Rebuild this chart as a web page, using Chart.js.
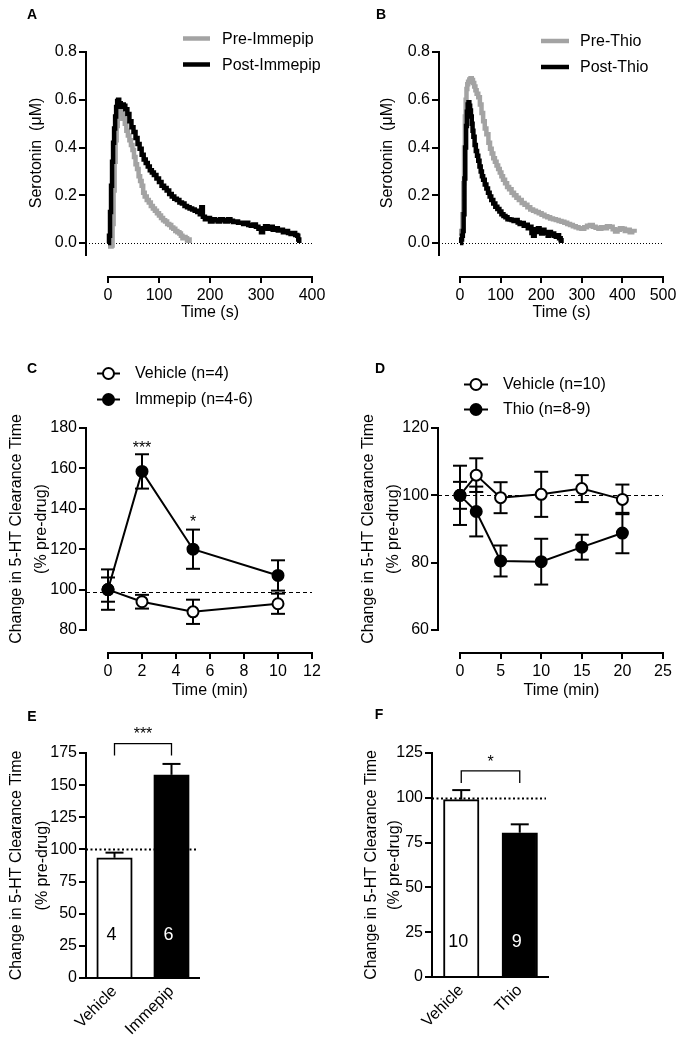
<!DOCTYPE html>
<html><head><meta charset="utf-8">
<script src="https://cdn.jsdelivr.net/npm/chart.js@4.4.0/dist/chart.umd.min.js"></script>
<style>
html,body{margin:0;padding:0;background:#fff;}
#wrap{position:relative;width:682px;height:1040px;overflow:hidden;}
#wrap canvas{position:absolute;left:0;top:0;}
</style></head>
<body><div id="wrap">
<canvas id="cA" width="682" height="1040"></canvas>
<canvas id="cB" width="682" height="1040"></canvas>
<canvas id="cC" width="682" height="1040"></canvas>
<canvas id="cD" width="682" height="1040"></canvas>
<canvas id="cE" width="682" height="1040"></canvas>
<canvas id="cF" width="682" height="1040"></canvas>
</div>
<script>
// ---------------- DATA ----------------
// Panel A: serotonin traces (time s, concentration uM)
const preImmepipTime = [0,4,7,9,11,13,15,17,19,21, 24,27,30,33,36,39,42,45,48,51, 54,57,60,63,66,69,72,76,80,84, 88,92,96,100,104,108,112,116,120,124, 128,132,136,140,143,146,149,152,155,158, 160];
const preImmepipConc = [-0.015,-0.015,-0.01,0.08,0.22,0.34,0.43,0.49,0.52,0.54, 0.55,0.54,0.52,0.50,0.47,0.45,0.43,0.41,0.39,0.36, 0.33,0.31,0.28,0.26,0.24,0.21,0.195,0.18,0.17,0.155, 0.145,0.135,0.125,0.115,0.105,0.095,0.09,0.08,0.075,0.065, 0.06,0.05,0.045,0.04,0.03,0.02,0.025,0.02,0.01,0.015, 0.0];
const postImmepipTime = [0,2,4,6,8,10,12,14,16,18, 20,22,25,28,31,34,38,42,46,50, 54,58,62,66,70,74,78,82,86,90, 95,100,105,110,115,120,125,130,135,140, 145,150,155,160,165,170,175,180,183,186, 190,195,200,205,210,215,220,225,230,235, 240,245,250,255,260,265,270,275,280,285, 290,295,300,304,308,313,318,323,328,333, 338,343,348,353,358,363,367,371,373,375];
const postImmepipConc = [0.0,0.03,0.13,0.24,0.34,0.42,0.48,0.53,0.57,0.595, 0.60,0.585,0.57,0.58,0.575,0.56,0.54,0.51,0.485,0.465, 0.44,0.415,0.395,0.37,0.35,0.335,0.32,0.305,0.295,0.285, 0.27,0.255,0.24,0.23,0.22,0.205,0.195,0.185,0.18,0.17, 0.165,0.155,0.15,0.145,0.14,0.135,0.13,0.12,0.15,0.11, 0.10,0.105,0.09,0.10,0.095,0.09,0.10,0.095,0.09,0.10, 0.093,0.088,0.09,0.085,0.085,0.08,0.085,0.075,0.072,0.078, 0.068,0.06,0.045,0.062,0.07,0.06,0.068,0.056,0.062,0.052, 0.056,0.045,0.05,0.042,0.038,0.042,0.034,0.03,0.015,0.0];
// Panel B
const preThioTime = [0,3,6,8,10,12,14,16,18,20, 23,26,29,32,35,38,41,45,49,53, 57,61,65,70,74,78,82,86,90,94, 98,102,106,111,116,121,127,133,139,145, 152,159,166,173,180,187,194,201,208,215, 222,229,236,243,250,257,264,271,278,285, 292,299,306,313,320,327,334,341,348,355, 362,369,376,382,388,394,400,406,412,418, 424,430];
const preThioConc = [0.03,0.05,0.12,0.25,0.40,0.53,0.60,0.645,0.665,0.675, 0.685,0.69,0.683,0.67,0.655,0.64,0.625,0.61,0.58,0.545, 0.51,0.48,0.455,0.42,0.395,0.375,0.355,0.34,0.325,0.31, 0.295,0.28,0.265,0.25,0.235,0.225,0.21,0.2,0.19,0.18, 0.168,0.16,0.15,0.14,0.135,0.13,0.125,0.118,0.112,0.108, 0.103,0.1,0.096,0.092,0.089,0.085,0.08,0.075,0.07,0.066, 0.062,0.06,0.066,0.072,0.075,0.068,0.064,0.06,0.066,0.062, 0.07,0.068,0.058,0.048,0.055,0.062,0.06,0.05,0.055,0.045, 0.05,0.043];
const postThioTime = [0,3,5,7,9,11,13,15,17,19, 21,23,25,27,29,31,33,36,39,42, 45,48,51,54,57,61,65,69,73,77, 82,87,92,97,102,107,112,117,122,127, 132,137,142,147,152,157,162,167,172,176, 180,184,188,192,196,200,204,208,212,216, 220,224,228,232,236,240,244,248,250];
const postThioConc = [0.0,0.015,0.03,0.05,0.12,0.27,0.40,0.49,0.55,0.58, 0.59,0.575,0.555,0.53,0.5,0.47,0.445,0.41,0.385,0.365, 0.345,0.32,0.3,0.28,0.265,0.245,0.228,0.21,0.195,0.18, 0.165,0.152,0.142,0.132,0.12,0.113,0.108,0.1,0.098,0.096, 0.092,0.096,0.086,0.08,0.084,0.072,0.076,0.062,0.068,0.042, 0.03,0.058,0.046,0.062,0.05,0.04,0.056,0.042,0.046,0.03, 0.046,0.036,0.04,0.03,0.026,0.032,0.02,0.012,0.0];
const aTimeTicks = [0, 100, 200, 300, 400];
const bTimeTicks = [0, 100, 200, 300, 400, 500];
const concTicks = [0, 0.2, 0.4, 0.6, 0.8];
// Panel C
const cTime = [0, 2, 5, 10];
const cVehicleMean = [100, 94, 89, 93];
const cVehicleSem = [6, 3.4, 6, 5];
const cImmepipMean = [100, 158.5, 120, 107];
const cImmepipSem = [10, 8.5, 9.7, 7.5];
const cBaseline = 98.8;
const cStars = [{t: 2, v: 171.6, s: '***'}, {t: 5, v: 134.8, s: '*'}];
const cTimeTicks = [0, 2, 4, 6, 8, 10, 12];
const cPctTicks = [80, 100, 120, 140, 160, 180];
// Panel D
const dTime = [0, 2, 5, 10, 15, 20];
const dVehicleMean = [100, 106, 99.3, 100.3, 102, 98.8];
const dVehicleSem = [4, 5, 4.6, 6.7, 4, 4.4];
const dThioMean = [100, 95.2, 80.5, 80.3, 84.6, 88.8];
const dThioSem = [8.8, 7.4, 4.6, 6.8, 3.7, 6];
const dBaseline = 100;
const dTimeTicks = [0, 5, 10, 15, 20, 25];
const dPctTicks = [60, 80, 100, 120];
// Panel E
const eLabels = ['Vehicle', 'Immepip'];
const eMean = [93.5, 158];
const eSem = [4, 8.5];
const eN = ['4', '6'];
const ePctTicks = [0, 25, 50, 75, 100, 125, 150, 175];
// Panel F
const fLabels = ['Vehicle', 'Thio'];
const fMean = [99, 80.5];
const fSem = [5.3, 4.7];
const fN = ['10', '9'];
const fPctTicks = [0, 25, 50, 75, 100, 125];

// ---------------- STYLE / HELPERS ----------------
const FONT = '"Liberation Sans", Arial, Helvetica, sans-serif';
const GRAY = '#a3a3a3';
Chart.defaults.font.family = FONT;
Chart.defaults.font.size = 16;
Chart.defaults.color = '#000';
Chart.defaults.animation = false;
const W = 682, H = 1040, YW = 60, XH = 40;

function pts(xs, ys) { return xs.map((x, i) => ({x: x, y: ys[i]})); }

function T(ctx, s, x, y, o) {
  o = o || {};
  ctx.save();
  ctx.font = (o.bold ? 'bold ' : '') + (o.size || 16) + 'px ' + FONT;
  ctx.fillStyle = o.color || '#000';
  ctx.textAlign = o.align || 'center';
  ctx.textBaseline = 'middle';
  ctx.translate(x, y);
  if (o.rot) ctx.rotate(o.rot);
  ctx.fillText(s, 0, 0);
  ctx.restore();
}
function L(ctx, x1, y1, x2, y2, w, color, dash) {
  ctx.save();
  ctx.strokeStyle = color || '#000';
  ctx.lineWidth = w;
  ctx.lineCap = 'butt';
  if (dash) ctx.setLineDash(dash);
  ctx.beginPath(); ctx.moveTo(x1, y1); ctx.lineTo(x2, y2); ctx.stroke();
  ctx.restore();
}
function circle(ctx, cx, cy, r, fill) {
  ctx.save();
  ctx.beginPath(); ctx.arc(cx, cy, r, 0, Math.PI * 2);
  ctx.fillStyle = fill; ctx.fill();
  ctx.lineWidth = 2; ctx.strokeStyle = '#000'; ctx.stroke();
  ctx.restore();
}
function yTitle2(ctx, x1, x2, y) {
  T(ctx, 'Change in 5-HT Clearance Time', x1, y, {rot: -Math.PI / 2});
  T(ctx, '(% pre-drug)', x2, y, {rot: -Math.PI / 2});
}

function linScale(o) {
  const isX = o.axis === 'x';
  return {
    type: 'linear', min: o.min, max: o.max,
    afterBuildTicks: s => { s.ticks = o.ticks.map(v => ({value: v})); },
    afterFit: isX ? (s => { s.height = XH; }) : (s => { s.width = YW; }),
    ticks: {padding: isX ? 3 : 2, autoSkip: false, maxRotation: 0, minRotation: 0,
      color: '#000', font: {size: 16},
      callback: v => (o.dec != null ? Number(v).toFixed(o.dec) : String(Math.round(v)))},
    grid: {display: true, drawOnChartArea: false, drawTicks: true, tickLength: isX ? 6 : 7, color: '#000', lineWidth: 2},
    border: {display: false}
  };
}
function pad(g, xh) {
  return {left: g.left - YW, right: W - g.right, top: g.top, bottom: H - g.bottom - (xh || XH)};
}
function drawAxes(chart, g) {
  const {ctx, chartArea: a, scales: {x, y}} = chart;
  L(ctx, a.left, y.getPixelForValue(g.yTop) - 1, a.left, y.getPixelForValue(g.yEnd) + 1, 2);
  if (g.xFrom != null) {
    L(ctx, x.getPixelForValue(g.xFrom) - 1, a.bottom, x.getPixelForValue(g.xTo) + 1, a.bottom, 2);
  }
}
function errBars(chart, xs, means, sems) {
  const {ctx, scales: {x, y}} = chart;
  xs.forEach((t, i) => {
    const px = x.getPixelForValue(t);
    const top = y.getPixelForValue(means[i] + sems[i]);
    const bot = y.getPixelForValue(means[i] - sems[i]);
    L(ctx, px, top, px, bot, 2);
    L(ctx, px - 7, top, px + 7, top, 2);
    L(ctx, px - 7, bot, px + 7, bot, 2);
  });
}

// ---------------- PANEL A / B (traces) ----------------
function traceChart(id, g, series, deco) {
  return new Chart(document.getElementById(id), {
    type: 'line',
    data: {datasets: series.map(s => ({
      label: s.label, data: s.data, borderColor: s.color, borderWidth: 4.5,
      pointRadius: 0, stepped: true, fill: false, tension: 0
    }))},
    options: {
      responsive: false, maintainAspectRatio: false,
      layout: {padding: pad(g)},
      plugins: {legend: {display: false}, tooltip: {enabled: false}},
      scales: {
        x: linScale({axis: 'x', min: g.xMin, max: g.xMax, ticks: g.xTicks}),
        y: linScale({axis: 'y', min: g.yMin, max: g.yMax, ticks: concTicks, dec: 1})
      }
    },
    plugins: [{
      id: 'deco' + id,
      beforeDatasetsDraw(chart) {
        const {ctx, chartArea: a, scales: {y}} = chart;
        const y0 = Math.round(y.getPixelForValue(0)) + 0.5;
        L(ctx, a.left, y0, a.right, y0, 1, '#000', [1, 2]);
      },
      afterDraw(chart) { drawAxes(chart, g); deco(chart); }
    }]
  });
}

const geoA = {left: 86, right: 312, top: 52, bottom: 277, xMin: -43.1, xMax: 400, xTicks: aTimeTicks,
  yMin: -0.1424, yMax: 0.8, yTop: 0.8, yEnd: -0.05, xFrom: 0, xTo: 400};
traceChart('cA', geoA, [
  {label: 'Post-Immepip', data: pts(postImmepipTime, postImmepipConc), color: '#000'},
  {label: 'Pre-Immepip', data: pts(preImmepipTime, preImmepipConc), color: GRAY}
], chart => {
  const {ctx, scales: {x}} = chart;
  T(ctx, 'A', 32, 15, {bold: true, size: 14});
  L(ctx, 183, 38.5, 210, 38.5, 4.5, GRAY);
  T(ctx, 'Pre-Immepip', 222, 39.5, {align: 'left'});
  L(ctx, 183, 64.5, 210, 64.5, 4.5, '#000');
  T(ctx, 'Post-Immepip', 222, 65.5, {align: 'left'});
  T(ctx, 'Serotonin  (\u03bcM)', 36.5, 153, {rot: -Math.PI / 2});
  T(ctx, 'Time (s)', x.getPixelForValue(200), 313);
});

const geoB = {left: 439, right: 663, top: 52, bottom: 277, xMin: -51.7, xMax: 500, xTicks: bTimeTicks,
  yMin: -0.1424, yMax: 0.8, yTop: 0.8, yEnd: -0.05, xFrom: 0, xTo: 500};
traceChart('cB', geoB, [
  {label: 'Post-Thio', data: pts(postThioTime, postThioConc), color: '#000'},
  {label: 'Pre-Thio', data: pts(preThioTime, preThioConc), color: GRAY}
], chart => {
  const {ctx, scales: {x}} = chart;
  T(ctx, 'B', 381, 15, {bold: true, size: 14});
  L(ctx, 541, 41, 569, 41, 4.5, GRAY);
  T(ctx, 'Pre-Thio', 580, 41.5, {align: 'left'});
  L(ctx, 541, 67, 569, 67, 4.5, '#000');
  T(ctx, 'Post-Thio', 580, 67.5, {align: 'left'});
  T(ctx, 'Serotonin  (\u03bcM)', 387.5, 153, {rot: -Math.PI / 2});
  T(ctx, 'Time (s)', x.getPixelForValue(250), 313);
});

// ---------------- PANEL C / D (time course) ----------------
function courseChart(id, g, series, deco) {
  return new Chart(document.getElementById(id), {
    type: 'line',
    data: {datasets: series.map(s => ({
      label: s.label, data: pts(g.time, s.mean), borderColor: '#000', borderWidth: 2,
      pointRadius: 5.5, pointBorderWidth: 2, pointBorderColor: '#000',
      pointBackgroundColor: s.fill, fill: false, tension: 0
    }))},
    options: {
      responsive: false, maintainAspectRatio: false,
      layout: {padding: pad(g)},
      plugins: {legend: {display: false}, tooltip: {enabled: false}},
      scales: {
        x: linScale({axis: 'x', min: g.xMin, max: g.xMax, ticks: g.xTicks}),
        y: linScale({axis: 'y', min: g.yMin, max: g.yMax, ticks: g.yTicks})
      }
    },
    plugins: [{
      id: 'deco' + id,
      beforeDatasetsDraw(chart) {
        const {ctx, chartArea: a, scales: {y}} = chart;
        const yb = Math.round(y.getPixelForValue(g.baseline)) + 0.5;
        L(ctx, a.left, yb, a.right, yb, 1, '#000', [4, 3]);
        series.forEach(s => errBars(chart, g.time, s.mean, s.sem));
      },
      afterDraw(chart) { drawAxes(chart, g); deco(chart); }
    }]
  });
}

const geoC = {left: 86, right: 312, top: 428, bottom: 653, xMin: -1.294, xMax: 12, xTicks: cTimeTicks,
  yMin: 68.61, yMax: 180, yTicks: cPctTicks, yTop: 180, yEnd: 80, xFrom: 0, xTo: 12, time: cTime, baseline: cBaseline};
courseChart('cC', geoC, [
  {label: 'Immepip (n=4-6)', mean: cImmepipMean, sem: cImmepipSem, fill: '#000'},
  {label: 'Vehicle (n=4)', mean: cVehicleMean, sem: cVehicleSem, fill: '#fff'}
], chart => {
  const {ctx, scales: {x, y}} = chart;
  T(ctx, 'C', 32, 369, {bold: true, size: 14});
  L(ctx, 97, 373.5, 120, 373.5, 2); circle(ctx, 108.5, 373.5, 5.5, '#fff');
  T(ctx, 'Vehicle (n=4)', 135, 374, {align: 'left'});
  L(ctx, 97, 399.5, 120, 399.5, 2); circle(ctx, 108.5, 399.5, 5.5, '#000');
  T(ctx, 'Immepip (n=4-6)', 135, 400, {align: 'left'});
  yTitle2(ctx, 17, 42, 529);
  T(ctx, 'Time (min)', x.getPixelForValue(6), 690.5);
  cStars.forEach(s => T(ctx, s.s, x.getPixelForValue(s.t), y.getPixelForValue(s.v) + 3.5));
});

const geoD = {left: 438, right: 663, top: 428, bottom: 653, xMin: -2.709, xMax: 25, xTicks: dTimeTicks,
  yMin: 53.17, yMax: 120, yTicks: dPctTicks, yTop: 120, yEnd: 60, xFrom: 0, xTo: 25, time: dTime, baseline: dBaseline};
courseChart('cD', geoD, [
  {label: 'Thio (n=8-9)', mean: dThioMean, sem: dThioSem, fill: '#000'},
  {label: 'Vehicle (n=10)', mean: dVehicleMean, sem: dVehicleSem, fill: '#fff'}
], chart => {
  const {ctx, scales: {x}} = chart;
  T(ctx, 'D', 380, 369, {bold: true, size: 14});
  L(ctx, 464, 384.5, 488, 384.5, 2); circle(ctx, 476, 384.5, 5.5, '#fff');
  T(ctx, 'Vehicle (n=10)', 503, 385, {align: 'left'});
  L(ctx, 464, 409.5, 488, 409.5, 2); circle(ctx, 476, 409.5, 5.5, '#000');
  T(ctx, 'Thio (n=8-9)', 503, 410, {align: 'left'});
  yTitle2(ctx, 369, 394, 529);
  T(ctx, 'Time (min)', x.getPixelForValue(12.5), 691);
});

// ---------------- PANEL E / F (bars) ----------------
function barChart(id, g, labels, mean, sem, nums, deco) {
  return new Chart(document.getElementById(id), {
    type: 'bar',
    data: {labels: labels, datasets: [{
      data: mean, backgroundColor: ['#fff', '#000'], borderColor: '#000',
      borderWidth: 2, borderSkipped: 'bottom', barThickness: 35.5
    }]},
    options: {
      responsive: false, maintainAspectRatio: false,
      layout: {padding: pad(g, 60)},
      plugins: {legend: {display: false}, tooltip: {enabled: false}},
      scales: {
        x: {type: 'category', afterFit: s => { s.height = 60; },
          ticks: {minRotation: 45, maxRotation: 45, padding: -4, color: '#000', font: {size: 16}},
          grid: {display: false}, border: {display: false}},
        y: linScale({axis: 'y', min: 0, max: g.yMax, ticks: g.yTicks})
      }
    },
    plugins: [{
      id: 'deco' + id,
      beforeDatasetsDraw(chart) {
        const {ctx, chartArea: a, scales: {y}} = chart;
        const yb = Math.round(y.getPixelForValue(100)) + 0.5;
        L(ctx, a.left, yb, a.right - 3, yb, 2, '#000', [2, 2.5]);
      },
      afterDatasetsDraw(chart) {
        const {ctx, scales: {y}} = chart;
        const bars = chart.getDatasetMeta(0).data;
        bars.forEach((b, i) => {
          const top = y.getPixelForValue(mean[i] + sem[i]);
          L(ctx, b.x, y.getPixelForValue(mean[i]), b.x, top, 2);
          L(ctx, b.x - 9, top, b.x + 9, top, 2);
          T(ctx, nums[i], b.x - 3, g.numY, {size: 18, color: i === 0 ? '#000' : '#fff'});
        });
      },
      afterDraw(chart) {
        const {ctx, chartArea: a, scales: {y}} = chart;
        L(ctx, a.left, y.getPixelForValue(g.yMax) - 1, a.left, a.bottom + 1, 2);
        L(ctx, a.left - 1, a.bottom, a.right, a.bottom, 2);
        const bars = chart.getDatasetMeta(0).data;
        const bt = y.getPixelForValue(g.brTop), bl = y.getPixelForValue(g.brLeg);
        ctx.save(); ctx.strokeStyle = '#000'; ctx.lineWidth = 1.3;
        ctx.beginPath();
        ctx.moveTo(bars[0].x, bl); ctx.lineTo(bars[0].x, bt); ctx.lineTo(bars[1].x, bt); ctx.lineTo(bars[1].x, bl);
        ctx.stroke(); ctx.restore();
        T(ctx, g.star, (bars[0].x + bars[1].x) / 2, y.getPixelForValue(g.starV) + 3.5);
        deco(chart);
      }
    }]
  });
}

const geoE = {left: 86, right: 200, top: 753, bottom: 978, yMax: 175, yTicks: ePctTicks, numY: 935,
  brTop: 182.3, brLeg: 173, star: '***', starV: 192.4};
barChart('cE', geoE, eLabels, eMean, eSem, eN, chart => {
  const ctx = chart.ctx;
  T(ctx, 'E', 32, 717, {bold: true, size: 14});
  yTitle2(ctx, 17, 43, 865.5);
});

const geoF = {left: 432, right: 549, top: 753, bottom: 977, yMax: 125, yTicks: fPctTicks, numY: 942,
  brTop: 115, brLeg: 108.3, star: '*', starV: 121.6};
barChart('cF', geoF, fLabels, fMean, fSem, fN, chart => {
  const ctx = chart.ctx;
  T(ctx, 'F', 379, 715, {bold: true, size: 14});
  yTitle2(ctx, 372, 395, 865);
});
</script>
</body></html>
